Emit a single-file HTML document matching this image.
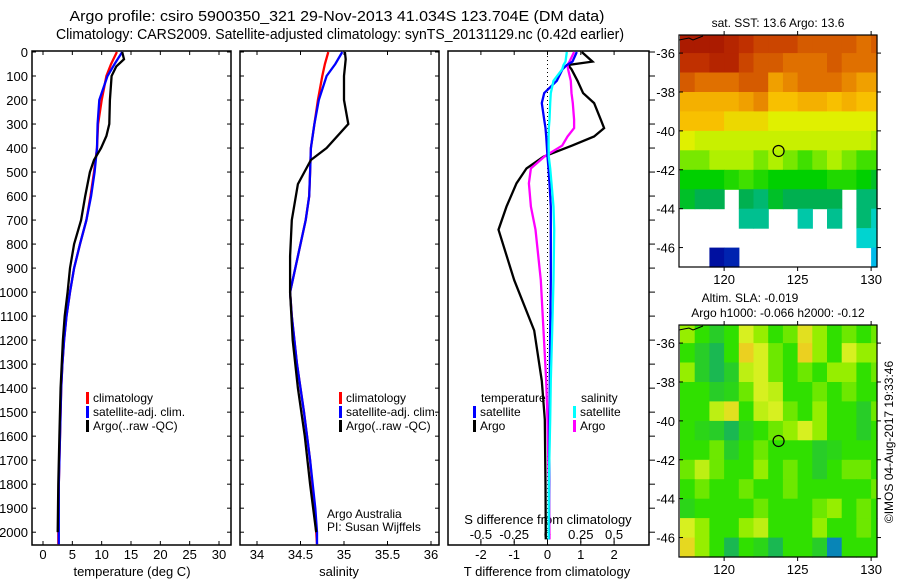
<!DOCTYPE html>
<html><head><meta charset="utf-8"><style>
body{margin:0;background:#fff;}
svg{display:block;font-family:"Liberation Sans",sans-serif;}
text{fill:#000;}
</style></head><body>
<svg id="c" width="900" height="580" viewBox="0 0 900 580"></svg>
<script>
// ---------- data ----------
const depthTicks=[0,100,200,300,400,500,600,700,800,900,1000,1100,1200,1300,1400,1500,1600,1700,1800,1900,2000];
const tempTicks=[0,5,10,15,20,25,30];
const salTicks=[34,34.5,35,35.5,36];
const salTickLabels=["34","34.5","35","35.5","36"];
const tdTicks=[-2,-1,0,1,2];
const sdTicks=[-0.5,-0.25,0,0.25,0.5];
const sdTickLabels=["-0.5","-0.25","0","0.25","0.5"];

const tClimDepth=[0,50,100,200,300,400,500,600,700,800,900,1000,1100,1200,1300,1400,1600,1800,2000,2050];
const tClim=[12.6,11.6,10.8,10.0,9.4,9.2,8.7,8.1,7.4,6.3,5.3,4.6,4.0,3.6,3.3,3.1,2.9,2.7,2.6,2.6];
const tSat=[13.5,12.2,11.0,9.6,9.3,9.2,8.8,8.2,7.4,6.3,5.3,4.6,4.0,3.6,3.3,3.1,2.9,2.7,2.7,2.7];
const tArgoDepth=[0,30,60,100,200,300,350,400,450,500,600,700,800,900,1000,1100,1200,1400,1600,1800,2000];
const tArgo=[13.5,13.8,12.5,11.7,11.4,11.3,10.8,9.9,8.7,8.0,7.2,6.5,5.3,4.6,4.2,3.7,3.4,3.0,2.8,2.6,2.5];

const sDepth=[0,50,100,200,300,400,500,600,700,850,1000,1100,1200,1300,1500,1700,1900,2000,2050];
const sClim=[34.82,34.78,34.75,34.70,34.66,34.62,34.61,34.60,34.56,34.47,34.38,34.40,34.43,34.46,34.54,34.61,34.66,34.68,34.69];
const sSat=[34.98,34.90,34.80,34.71,34.66,34.62,34.61,34.60,34.56,34.47,34.38,34.40,34.43,34.46,34.54,34.61,34.67,34.69,34.69];
const sArgoDepth=[0,30,100,200,300,400,450,550,700,850,1000,1200,1400,1600,1800,2000];
const sArgo=[35.01,35.02,35.00,35.00,35.05,34.80,34.62,34.47,34.40,34.38,34.38,34.41,34.47,34.55,34.61,34.68];

const dDepth=[0,40,54,72,120,171,213,282,317,352,390,436,485,547,644,740,950,1160,1370,1530,1800,2030];
const dTArgo=[1.03,1.35,0.62,0.72,0.9,1.07,1.4,1.6,1.7,1.4,0.74,-0.12,-0.63,-0.93,-1.23,-1.47,-1.0,-0.4,-0.17,-0.08,-0.06,-0.05];
const dTSat=[0.88,0.75,0.58,0.45,0.28,-0.1,-0.17,-0.1,-0.06,-0.04,-0.02,0.0,0.03,0.06,0.1,0.1,0.1,0.08,0.07,0.06,0.05,0.04];
const dSSat=[0.145,0.135,0.12,0.11,0.045,0.025,0.02,0.015,0.01,0.008,0.008,0.01,0.02,0.03,0.045,0.05,0.045,0.035,0.025,0.02,0.01,0.008];
const dSArgo=[0.2,0.165,0.15,0.155,0.175,0.18,0.19,0.2,0.2,0.15,0.11,-0.025,-0.125,-0.14,-0.125,-0.09,-0.05,-0.03,-0.01,0.0,0.01,0.015];

const mapLons=[117,118,119,120,121,122,123,124,125,126,127,128,129,130];
const mapLats=[-35,-36,-37,-38,-39,-40,-41,-42,-43,-44,-45,-46];
const N=null;
const sst=[
[19.5,19.5,19.5,19,18.5,18,18,18,17.5,17.5,17.5,17.5,17,17.5],
[18.5,18.5,19,19,18,17.5,17.5,17,17,17,17.5,17,17,17],
[17.5,17,17,17,17.5,17.5,16,16.5,17,17,17,16.5,16,16],
[15.5,15.5,15.5,15.5,16,16.5,15,15,15.5,15.5,15,15.5,15,15],
[15,15,15,14.5,14.5,14.5,14,14,14,14,14,14,14,14],
[14,13.5,13.5,13.5,13.5,13.5,13.5,13.5,13.5,13.5,13.5,13.5,13.5,13],
[12.5,12.5,13,13,13,12.5,13,12.5,12,12.5,13,12.5,12,12],
[11,11,11,11.5,12,11.5,11,11,11,11,11.5,11.5,11,10.5],
[10.5,10,10,N,10,9.5,10.5,10,10,10,10,N,9.5,9.5],
[N,N,N,N,9,9,N,N,8.5,N,9,N,9.5,8],
[N,N,N,N,N,N,N,N,N,N,N,N,7.5,7.5],
[N,N,1,1.5,N,N,N,N,N,N,N,N,N,6]];
const sla=[
[0.05,0,-0.05,0,0.1,0.05,0,0.03,0.12,0.05,0,0.03,0,0.03],
[0,-0.05,-0.08,0,0.14,0.1,0.03,0,0.14,0.05,0,0.1,0.05,0.05],
[0.05,-0.05,-0.08,-0.05,0.08,0.1,0.03,0,0.03,0,0.05,0.05,0,0.03],
[0,0,-0.05,-0.03,0.03,0.1,0.08,0,0,0.03,0,0.03,0,0],
[0,0,0.08,0.12,0,0.08,0.1,0.03,0,0.05,0,0,-0.05,0.03],
[0,-0.03,-0.05,-0.08,-0.03,0,0.03,0.05,0.1,0.05,0,0,-0.05,0],
[0,0,0.03,-0.05,0,0.03,0,0,0,-0.05,-0.03,0,0,0],
[0.03,0.08,0.03,0,0,0.05,0,0.03,0,-0.05,0,0.03,0.03,0],
[0,0.03,0,0,0.03,0,0,0.03,0,0,0,0,0,0.03],
[-0.03,0,0,0,0,0.03,0,0,0,0.03,0.05,0,0.03,0],
[0.1,0.05,0,0,0.05,0.08,0,0,0,0.05,0,0,0.03,0],
[0.13,0.05,0,-0.08,0,-0.03,-0.08,0,0,-0.05,-0.15,0,0,0]];
const floatLon=123.704, floatLat=-41.034;
const mapLonTicks=[120,125,130];
const mapLatTicks=[-36,-38,-40,-42,-44,-46];

// ---------- helpers ----------
const svg=document.getElementById('c');
const NS='http://www.w3.org/2000/svg';
function el(tag,attrs,parent){const e=document.createElementNS(NS,tag);for(const k in attrs)e.setAttribute(k,attrs[k]);(parent||svg).appendChild(e);return e;}
function txt(x,y,s,anchor,size,parent){const t=el('text',{x:x,y:y,'text-anchor':anchor||'start','font-size':size||13},parent);t.textContent=s;return t;}

const TOP=52, PB=545;
const yD=d=>TOP+d*0.2401;
const xT=v=>43+v*(176/30);
const xS=v=>257+(v-34)*87;
const xDT=v=>547.5+v*33.3;
const xDS=v=>547.5+v*133.2;

function frame(x0,x1,name){const r=el('rect',{x:x0,y:TOP-1,width:x1-x0,height:PB-TOP+1,fill:'none',stroke:'#000','stroke-width':1.5});}
function line(xs,ds,fx,color,name,w){const p=el('polyline',{points:xs.map((v,i)=>fx(v).toFixed(1)+','+yD(ds[i]).toFixed(1)).join(' '),fill:'none',stroke:color,'stroke-width':w||2.3,'stroke-linejoin':'miter'});}

// titles
let t1=txt(337,21,"Argo profile: csiro 5900350_321 29-Nov-2013 41.034S 123.704E (DM data)",'middle',15);
t1.setAttribute('textLength','535');t1.setAttribute('lengthAdjust','spacingAndGlyphs');

let t2=txt(340,39,"Climatology: CARS2009. Satellite-adjusted climatology: synTS_20131129.nc (0.42d earlier)",'middle',15);
t2.setAttribute('textLength','568');t2.setAttribute('lengthAdjust','spacingAndGlyphs');


frame(32,231,'temperature-panel');frame(240,439,'salinity-panel');frame(448,649,'difference-panel');

depthTicks.forEach(d=>{const y=yD(d);
 const l=txt(28,y+5,String(d),'end',13);
 [[32,36],[227,231],[240,244],[435,439],[649,655]].forEach(a=>el('line',{x1:a[0],x2:a[1],y1:y,y2:y,stroke:'#000'}));
});
tempTicks.forEach(v=>{const x=xT(v);el('line',{x1:x,x2:x,y1:PB-4,y2:PB,stroke:'#000'});el('line',{x1:x,x2:x,y1:TOP-1,y2:TOP+3,stroke:'#000'});
 const l=txt(x,559,String(v),'middle',13);});
salTicks.forEach((v,i)=>{const x=xS(v);el('line',{x1:x,x2:x,y1:PB-4,y2:PB,stroke:'#000'});el('line',{x1:x,x2:x,y1:TOP-1,y2:TOP+3,stroke:'#000'});
 const l=txt(x,559,salTickLabels[i],'middle',13);});
tdTicks.forEach(v=>{const x=xDT(v);el('line',{x1:x,x2:x,y1:PB-4,y2:PB,stroke:'#000'});el('line',{x1:x,x2:x,y1:TOP-1,y2:TOP+3,stroke:'#000'});
 const l=txt(x,559,String(v),'middle',13);});
sdTicks.forEach((v,i)=>{const x=xDS(v);el('line',{x1:x,x2:x,y1:539,y2:543,stroke:'#000'});
 const l=txt(x,539,sdTickLabels[i],'middle',13);});

let a1=txt(132,576,'temperature (deg C)','middle',13);
let a2=txt(339,576,'salinity','middle',13);
let a3=txt(547,576,'T difference from climatology','middle',13);
let a4=txt(548,524,'S difference from climatology','middle',13);

el('line',{x1:xDT(0),x2:xDT(0),y1:TOP,y2:PB,stroke:'#000','stroke-dasharray':'1,3'});

line(tClim,tClimDepth,xT,'#ff0000','temperature-climatology-line');
line(tSat,tClimDepth,xT,'#0000ff','temperature-satellite-line');
line(tArgo,tArgoDepth,xT,'#000000','temperature-argo-line');
line(sClim,sDepth,xS,'#ff0000','salinity-climatology-line');
line(sSat,sDepth,xS,'#0000ff','salinity-satellite-line');
line(sArgo,sArgoDepth,xS,'#000000','salinity-argo-line');
line(dTArgo,dDepth,xDT,'#000000','t-diff-argo-line');
line(dSArgo,dDepth,xDS,'#ff00ff','s-diff-argo-line');
line(dTSat,dDepth,xDT,'#0000ff','t-diff-satellite-line');
line(dSSat,dDepth,xDS,'#00ffff','s-diff-satellite-line');

function leg(x,y,color,label,name){el('rect',{x:x,y:y-10,width:3,height:12,fill:color});const t=txt(x+7,y,label,'start',12);}
[[86,'temperature'],[339,'salinity']].forEach(p=>{
 leg(p[0],402,'#ff0000','climatology','legend-'+p[1]+'-climatology');
 leg(p[0],416,'#0000ff','satellite-adj. clim.','legend-'+p[1]+'-satellite');
 leg(p[0],430,'#000000','Argo(..raw -QC)','legend-'+p[1]+'-argo');
});
let lt=txt(481,402,'temperature','start',12);
let ls=txt(581,402,'salinity','start',12);
leg(473,416,'#0000ff','satellite','legend-t-diff-satellite');
leg(473,430,'#000000','Argo','legend-t-diff-argo');
leg(573,416,'#00ffff','satellite','legend-s-diff-satellite');
leg(573,430,'#ff00ff','Argo','legend-s-diff-argo');
let ag=txt(327,518,'Argo Australia','start',12);
let pi=txt(327,531,'PI: Susan Wijffels','start',12);

// ---------- maps ----------
function lerpColor(stops,v){for(let i=1;i<stops.length;i++){if(v<=stops[i][0]){const a=stops[i-1],b=stops[i],t=(v-a[0])/(b[0]-a[0]);const c1=a[1],c2=b[1];return 'rgb('+[0,1,2].map(k=>Math.round(c1[k]+(c2[k]-c1[k])*t)).join(',')+')';}}}
function toRgb(s){return 'rgb('+s.join(',')+')';}
const sstStops=[[1,[0,16,160]],[4,[0,128,255]],[7,[0,216,224]],[8,[0,208,192]],[9,[0,192,144]],[10,[0,176,80]],[11,[0,208,0]],[12,[64,224,0]],[13,[176,240,0]],[14,[224,240,0]],[15,[248,192,0]],[16,[240,160,0]],[17,[224,112,0]],[18.5,[192,48,0]],[20,[160,16,0]]];
const slaStops=[[-0.2,[0,96,255]],[-0.1,[16,170,110]],[-0.05,[40,205,40]],[0,[48,224,0]],[0.05,[150,238,0]],[0.1,[215,240,32]],[0.15,[240,200,32]]];
function colorFor(stops,v){if(v<=stops[0][0])return toRgb(stops[0][1]);if(v>=stops[stops.length-1][0])return toRgb(stops[stops.length-1][1]);return lerpColor(stops,v);}

function drawMap(top,bottom,grid,stops,name,contPrefix){
 const x0=679,x1=877;
 const xL=lon=>x0+(lon-116.93)*(198/13.47);
 const yL=lat=>top+(-35.07-lat)*((bottom-top)/11.93);
 const g=el('g',{});
 grid.forEach((row,ri)=>row.forEach((v,ci)=>{ if(v===null)return;
  const la=Math.min(mapLats[ri],-35.07),lb=Math.max(mapLats[ri]-1,-47),lo=Math.max(mapLons[ci],116.93),lo2=Math.min(mapLons[ci]+1,130.4);
  const r=el('rect',{x:xL(lo).toFixed(1),y:yL(la).toFixed(1),width:(xL(lo2)-xL(lo)+0.6).toFixed(1),height:(yL(lb)-yL(la)+0.6).toFixed(1),fill:colorFor(stops,v)},g);
  
 }));
 el('polyline',{points:`${x0},${top+5} ${x0+10},${top+3} ${x0+14},${top+5} ${x0+24},${top+1}`,fill:'none',stroke:'#000','stroke-width':1},g);
 const c=el('circle',{cx:xL(floatLon),cy:yL(floatLat),r:5.5,fill:'none',stroke:'#000','stroke-width':1.2});
 
 const f=el('rect',{x:x0,y:top,width:x1-x0,height:bottom-top,fill:'none',stroke:'#000','stroke-width':1.2});
 
 mapLonTicks.forEach(v=>{const x=xL(v);el('line',{x1:x,x2:x,y1:top,y2:top-4,stroke:'#000'});el('line',{x1:x,x2:x,y1:bottom,y2:bottom+4,stroke:'#000'});
  const l=txt(x,bottom+17,String(v),'middle',13);});
 mapLatTicks.forEach(v=>{const y=yL(v);el('line',{x1:x0,x2:x0+4,y1:y,y2:y,stroke:'#000'});el('line',{x1:x1,x2:x1+4,y1:y,y2:y,stroke:'#000'});
  const l=txt(675,y+5,String(v),'end',13);});
}
drawMap(35,267,sst,sstStops,'sst-map','sst');
drawMap(325,557,sla,slaStops,'sla-map','sla');

let m1=txt(778,27,'sat. SST: 13.6 Argo: 13.6','middle',12);
let m2=txt(750,302,'Altim. SLA: -0.019','middle',12);
let m3=txt(778,317,'Argo h1000: -0.066 h2000: -0.12','middle',12);
let cp=txt(0,0,'©IMOS 04-Aug-2017 19:33:46','middle',12);cp.setAttribute('transform','translate(893,442) rotate(-90)');

</script>
</body></html>
